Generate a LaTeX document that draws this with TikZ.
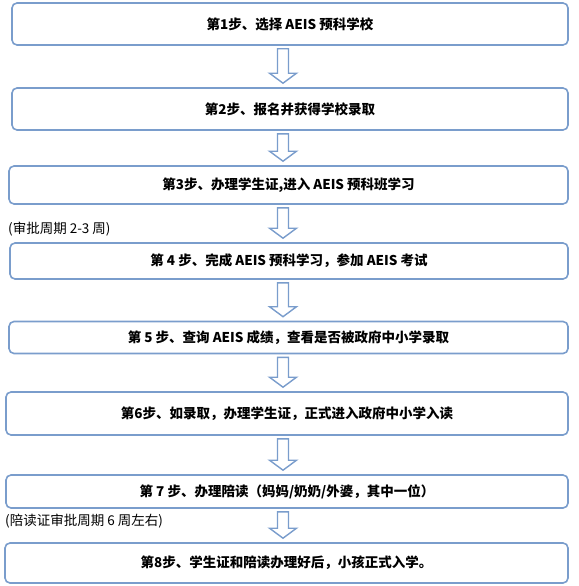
\documentclass[tikz,border=0pt]{standalone}
\usepackage{fontspec}
\newfontfamily\cjk{Noto Sans CJK SC}
\usetikzlibrary{calc}
\definecolor{boxblue}{RGB}{122,157,204}
\tikzset{
  stepbox/.style={draw=boxblue, line width=1.6pt, rounded corners=5pt, fill=white,
    inner sep=0pt, font=\cjk\bfseries\fontsize{13.5}{16}\selectfont},
  downarrow/.style={draw=boxblue, line width=1.4pt, fill=white, line join=miter},
  notetext/.style={font=\cjk\fontsize{13.5}{16}\selectfont, anchor=west, inner sep=0pt}
}
\newcommand{\steparrow}[2]{%
  \draw[downarrow] let \p1=(#1.south), \p2=(#2.north) in
    (277.5pt,\y1-3pt) -- (277.5pt,\y2+14pt) -- (269.5pt,\y2+14pt) -- (283pt,\y2+4pt)
    -- (296.5pt,\y2+14pt) -- (288.5pt,\y2+14pt) -- (288.5pt,\y1-3pt) -- cycle;}
\begin{document}
\begin{tikzpicture}[x=1pt, y=-1pt]
  \useasboundingbox (0,0) rectangle (578,586);
  % Passi
  \node[stepbox, minimum width=556pt, minimum height=42pt] (s1) at (290,24) {第1步、选择 AEIS 预科学校};
  \node[stepbox, minimum width=556pt, minimum height=42pt] (s2) at (290,109) {第2步、报名并获得学校录取};
  \node[stepbox, minimum width=559pt, minimum height=38pt] (s3) at (288.5,185) {第3步、办理学生证,进入 AEIS 预科班学习};
  \node[stepbox, minimum width=558pt, minimum height=36pt] (s4) at (289,261) {第 4 步、完成 AEIS 预科学习，参加 AEIS 考试};
  \node[stepbox, minimum width=559pt, minimum height=32pt] (s5) at (288.5,337.5) {第 5 步、查询 AEIS 成绩，查看是否被政府中小学录取};
  \node[stepbox, minimum width=562pt, minimum height=43pt] (s6) at (287,413.5) {第6步、如录取，办理学生证，正式进入政府中小学入读};
  \node[stepbox, minimum width=562pt, minimum height=33pt] (s7) at (287,491.5) {第 7 步、办理陪读（妈妈/奶奶/外婆，其中一位）};
  \node[stepbox, minimum width=563pt, minimum height=40pt] (s8) at (286.5,563) {第8步、学生证和陪读办理好后，小孩正式入学。};
  % Frecce
  \foreach \a/\b in {s1/s2, s2/s3, s3/s4, s4/s5, s5/s6, s6/s7, s7/s8}
    {\steparrow{\a}{\b}}
  % Note
  \node[notetext] (n1) at (8,229) {(审批周期 2-3 周)};
  \node[notetext] (n2) at (5,521) {(陪读证审批周期 6 周左右)};
\end{tikzpicture}
\end{document}
